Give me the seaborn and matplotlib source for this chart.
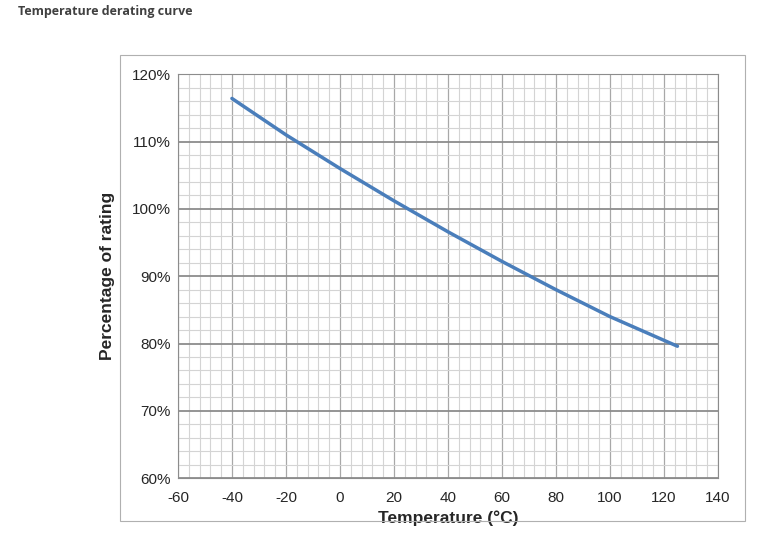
import numpy as np
import matplotlib
matplotlib.use("Agg")
import matplotlib.pyplot as plt
import seaborn as sns
from matplotlib.patches import Rectangle
from matplotlib.ticker import MultipleLocator, FuncFormatter

temperature = [-40, -20, 0, 20, 40, 60, 80, 100, 125]
rating_pct = [116.4, 111.0, 106.0, 101.2, 96.6, 92.2, 88.0, 84.0, 79.6]

sns.set_style("white")
plt.rcParams['font.family'] = ['Liberation Sans', 'DejaVu Sans']
plt.rcParams['axes.unicode_minus'] = False

fig = plt.figure(figsize=(7.77, 5.58), dpi=100)
ax = fig.add_axes([0.229, 0.143, 0.695, 0.724])

# outer chart frame
fig.patches.append(Rectangle((120 / 777, 1 - 521 / 558), 625 / 777, 466 / 558,
                             transform=fig.transFigure, fill=False,
                             edgecolor='#b0b0b0', linewidth=0.8))

sns.lineplot(x=temperature, y=rating_pct, ax=ax, color='#4a7ebb', linewidth=2.5)

ax.set_xlim(-60, 140)
ax.set_ylim(60, 120)
ax.xaxis.set_major_locator(MultipleLocator(20))
ax.xaxis.set_minor_locator(MultipleLocator(4))
ax.yaxis.set_major_locator(MultipleLocator(10))
ax.yaxis.set_minor_locator(MultipleLocator(2))
ax.yaxis.set_major_formatter(FuncFormatter(lambda v, p: f"{v:.0f}%"))

ax.grid(which='minor', color='#d4d4d4', linewidth=0.8)
ax.grid(which='major', axis='x', color='#a8a8a8', linewidth=0.9)
ax.grid(which='major', axis='y', color='#8c8c8c', linewidth=1.3)
ax.set_axisbelow(True)
for s in ax.spines.values():
    s.set_color('#8c8c8c')
ax.tick_params(which='both', length=0, labelsize=11)
ax.tick_params(axis='x', pad=9)
ax.tick_params(axis='y', pad=5)

ax.set_xlabel('Temperature (°C)', fontsize=12.5, fontweight='bold', labelpad=4)
ax.set_ylabel('Percentage of rating', fontsize=12.5, fontweight='bold', labelpad=12)

fig.text(18 / 777, 1 - 12 / 558, 'Temperature derating curve', fontsize=9,
         fontweight='bold', color='#404040', va='center', family=['Open Sans', 'DejaVu Sans'])

fig.savefig('out.png', dpi=100)
